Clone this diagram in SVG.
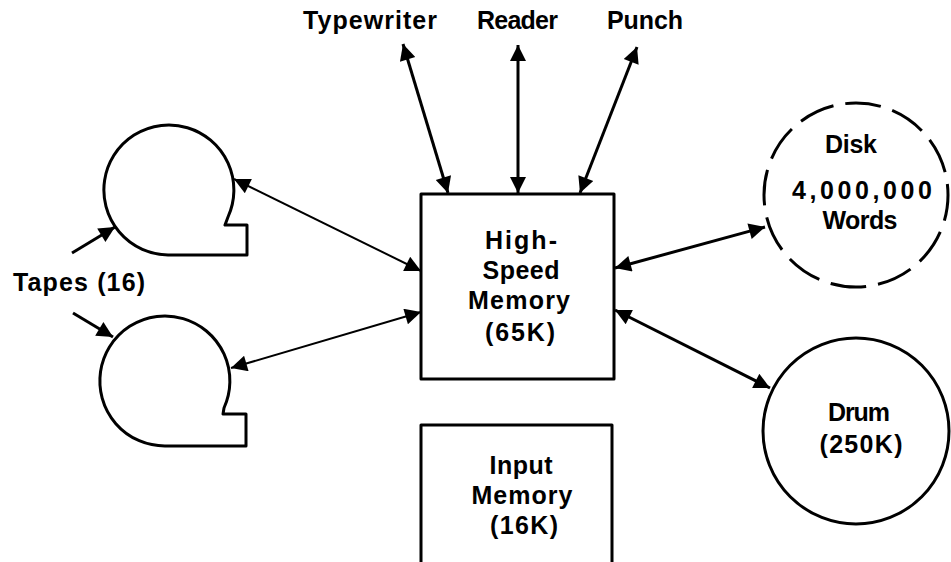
<svg xmlns="http://www.w3.org/2000/svg" width="951" height="562" viewBox="0 0 951 562">
<style>
.shape{fill:none;stroke:#000;stroke-width:3;stroke-linejoin:round}
.c{fill:none;stroke:#000;stroke-width:3}
.c2{fill:none;stroke:#000;stroke-width:2}
text{font-family:"Liberation Sans",Arial,sans-serif;font-weight:bold;font-size:25px;fill:#000}
.m{text-anchor:middle}
</style>
<defs>
<marker id="ah" viewBox="0 0 10 10" refX="10" refY="5" markerUnits="userSpaceOnUse" markerWidth="24" markerHeight="16" orient="auto-start-reverse">
<path d="M0,0 L10,5 L0,10 Z" fill="#000"/>
</marker>
</defs>
<rect width="951" height="562" fill="#fff"/>

<g id="typewriter"><text x="303" y="29" textLength="134" lengthAdjust="spacing">Typewriter</text></g>
<g id="reader"><text x="477" y="29" textLength="81" lengthAdjust="spacing">Reader</text></g>
<g id="punch"><text x="607" y="29" textLength="76" lengthAdjust="spacing">Punch</text></g>

<g id="tapes-label"><text x="13" y="291" textLength="132" lengthAdjust="spacing">Tapes (16)</text></g>

<g id="tape1"><path class="shape" d="M168,255 A65,65 0 1 1 228,217 L225,225 L247,225 L247,255 Z"/></g>
<g id="tape2"><path class="shape" d="M165,446 A65,65 0 1 1 224,408 L223,414 L246,414 L246,446 Z"/></g>

<g id="hsm">
<rect class="shape" x="421" y="194" width="193" height="185"/>
<text class="m" x="521" y="249" textLength="72" lengthAdjust="spacing">High-</text>
<text class="m" x="521" y="279" textLength="77" lengthAdjust="spacing">Speed</text>
<text class="m" x="519" y="309" textLength="102" lengthAdjust="spacing">Memory</text>
<text class="m" x="520" y="341" textLength="70" lengthAdjust="spacing">(65K)</text>
</g>

<g id="input-memory">
<path class="shape" d="M421,565 L421,425 L612,425 L612,565"/>
<text class="m" x="521" y="474" textLength="63" lengthAdjust="spacing">Input</text>
<text class="m" x="522" y="504" textLength="101" lengthAdjust="spacing">Memory</text>
<text class="m" x="524" y="534" textLength="68" lengthAdjust="spacing">(16K)</text>
</g>

<g id="disk">
<circle class="c" cx="856" cy="195" r="92" stroke-dasharray="36 12" stroke-dashoffset="10"/>
<text class="m" x="851" y="153" textLength="52" lengthAdjust="spacing">Disk</text>
<text class="m" x="862" y="199" textLength="140" lengthAdjust="spacing">4,000,000</text>
<text class="m" x="860" y="229" textLength="75" lengthAdjust="spacing">Words</text>
</g>

<g id="drum">
<circle class="c" cx="856" cy="431" r="93"/>
<text class="m" x="859" y="421" textLength="62" lengthAdjust="spacing">Drum</text>
<text class="m" x="861" y="453" textLength="83" lengthAdjust="spacing">(250K)</text>
</g>

<g id="connectors">
<line class="c" x1="403" y1="44" x2="448" y2="193" marker-start="url(#ah)" marker-end="url(#ah)"/>
<line class="c" x1="518" y1="45" x2="518" y2="193" marker-start="url(#ah)" marker-end="url(#ah)"/>
<line class="c" x1="637" y1="47" x2="580" y2="193" marker-start="url(#ah)" marker-end="url(#ah)"/>
<line class="c2" x1="234" y1="179" x2="421" y2="271" marker-start="url(#ah)" marker-end="url(#ah)"/>
<line class="c2" x1="231" y1="368" x2="421" y2="312" marker-start="url(#ah)" marker-end="url(#ah)"/>
<line class="c" x1="615" y1="268" x2="765" y2="227" marker-start="url(#ah)" marker-end="url(#ah)"/>
<line class="c" x1="615" y1="310" x2="770" y2="388" marker-start="url(#ah)" marker-end="url(#ah)"/>
<line class="c" x1="72" y1="253" x2="115" y2="227" marker-end="url(#ah)"/>
<line class="c" x1="73" y1="313" x2="113" y2="337" marker-end="url(#ah)"/>
</g>
</svg>
